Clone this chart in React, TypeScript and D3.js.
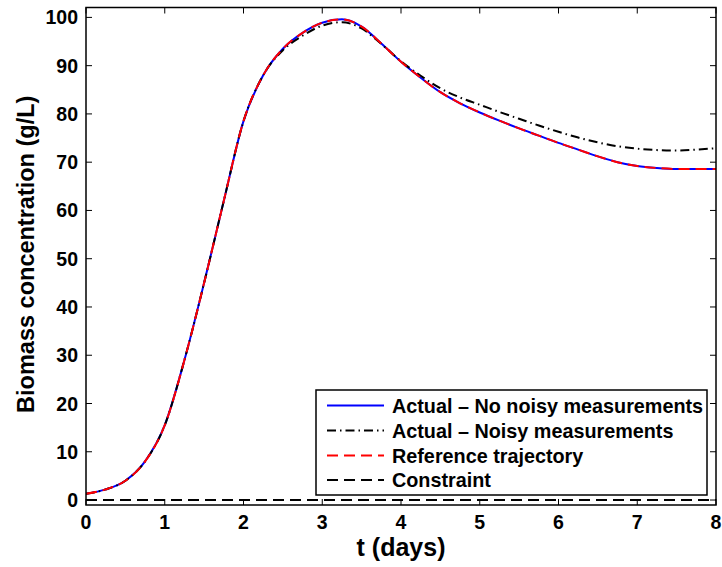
import React from "react";
import * as d3 from "d3";

const tDays = [0, 0.25, 0.5, 0.75, 1.0, 1.25, 1.5, 1.75, 2.0, 2.25, 2.5, 2.75, 3.0, 3.25, 3.5, 3.75, 4.0, 4.25, 4.5, 4.75, 5.0, 5.25, 5.5, 5.75, 6.0, 6.25, 6.5, 6.75, 7.0, 7.25, 7.5, 7.75, 8.0];
const actualNoNoise = [1.3, 2.2, 4.0, 8.0, 15.5, 29, 45, 62, 78.5, 88, 93.5, 96.8, 98.9, 99.6, 98.1, 94.6, 90.8, 87.5, 84.5, 82.2, 80.3, 78.6, 77.0, 75.5, 74.0, 72.6, 71.2, 70.0, 69.2, 68.8, 68.6, 68.6, 68.6];
const actualNoisy = [1.3, 2.2, 4.0, 8.0, 15.5, 29, 45, 62, 78.5, 88, 93.2, 96.2, 98.3, 99.0, 97.7, 94.5, 90.9, 87.9, 85.3, 83.4, 81.9, 80.4, 79.0, 77.6, 76.3, 75.1, 74.1, 73.3, 72.8, 72.5, 72.4, 72.6, 72.9];
const referenceTraj = [1.3, 2.2, 4.0, 8.0, 15.5, 29, 45, 62, 78.5, 88, 93.5, 96.8, 98.9, 99.6, 98.1, 94.6, 90.8, 87.5, 84.5, 82.2, 80.3, 78.6, 77.0, 75.5, 74.0, 72.6, 71.2, 70.0, 69.2, 68.8, 68.6, 68.6, 68.6];
const constraintT = [0, 8];
const constraintV = [0, 0];

const xTicks = [0, 1, 2, 3, 4, 5, 6, 7, 8];
const yTicks = [0, 10, 20, 30, 40, 50, 60, 70, 80, 90, 100];
const legendLabels = ["Actual \u2013 No noisy measurements", "Actual \u2013 Noisy measurements", "Reference trajectory", "Constraint"];

const W = 722, H = 567;
const L = 86, R = 716, T = 7.5, B = 505;

export default function App() {
  const x = d3.scaleLinear().domain([0, 8]).range([L, R]);
  const y = d3.scaleLinear().domain([-1.03, 102.05]).range([B, T]);
  const line = d3.line<[number, number]>().x(d => x(d[0])).y(d => y(d[1])).curve(d3.curveMonotoneX);
  const pts = (vals: number[]) => tDays.map((t, i) => [t, vals[i]] as [number, number]);
  const font = "'Liberation Sans', Arial, Helvetica, sans-serif";

  const styles = [
    { stroke: "#0000ff", dash: "none" },
    { stroke: "#000000", dash: "9,4,1.5,4" },
    { stroke: "#ff0000", dash: "11,6" },
    { stroke: "#000000", dash: "11,6" },
  ];
  const lgX = 316, lgY = 390, lgW = 391, lgH = 105;
  const rowY = [405.5, 430.5, 455.5, 480];

  return (
    <svg width={W} height={H} style={{ position: "absolute", left: 0, top: 0, background: "#fff" }} fontFamily={font}>
      <rect x={0} y={0} width={W} height={H} fill="#fff" />
      <defs>
        <clipPath id="plotclip"><rect x={L} y={T} width={R - L} height={B - T} /></clipPath>
      </defs>
      <g clipPath="url(#plotclip)" fill="none" strokeWidth={2}>
        <path d={line(pts(actualNoNoise)) || ""} stroke={styles[0].stroke} />
        <path d={line(pts(actualNoisy)) || ""} stroke={styles[1].stroke} strokeDasharray={styles[1].dash} />
        <path d={line(pts(referenceTraj)) || ""} stroke={styles[2].stroke} strokeDasharray={styles[2].dash} />
        <path d={line(constraintT.map((t, i) => [t, constraintV[i]] as [number, number])) || ""} stroke={styles[3].stroke} strokeDasharray={styles[3].dash} />
      </g>
      <rect x={L} y={T} width={R - L} height={B - T} fill="none" stroke="#000" strokeWidth={1.5} />
      {xTicks.map(t => (
        <g key={"x" + t}>
          <line x1={x(t)} x2={x(t)} y1={B} y2={B - 6} stroke="#000" strokeWidth={1} />
          <line x1={x(t)} x2={x(t)} y1={T} y2={T + 6} stroke="#000" strokeWidth={1} />
          <text x={x(t)} y={529} textAnchor="middle" fontSize={19.5} fontWeight="bold">{t}</text>
        </g>
      ))}
      {yTicks.map(v => (
        <g key={"y" + v}>
          <line x1={L} x2={L + 6} y1={y(v)} y2={y(v)} stroke="#000" strokeWidth={1} />
          <line x1={R} x2={R - 6} y1={y(v)} y2={y(v)} stroke="#000" strokeWidth={1} />
          <text x={78} y={y(v) + 7} textAnchor="end" fontSize={19.5} fontWeight="bold">{v}</text>
        </g>
      ))}
      <text x={(L + R) / 2} y={556} textAnchor="middle" fontSize={25} fontWeight="bold">t (days)</text>
      <text transform={`translate(34, ${(T + B) / 2 - 2}) rotate(-90)`} textAnchor="middle" fontSize={23.5} fontWeight="bold">Biomass concentration (g/L)</text>
      <rect x={lgX} y={lgY} width={lgW} height={lgH} fill="#fff" stroke="#000" strokeWidth={1.5} />
      {legendLabels.map((lab, i) => (
        <g key={lab}>
          <line x1={327} x2={384} y1={rowY[i]} y2={rowY[i]} stroke={styles[i].stroke} strokeWidth={2} strokeDasharray={styles[i].dash === "none" ? undefined : styles[i].dash} />
          <text x={392} y={rowY[i] + 7} fontSize={19.8} fontWeight="bold">{lab}</text>
        </g>
      ))}
    </svg>
  );
}
